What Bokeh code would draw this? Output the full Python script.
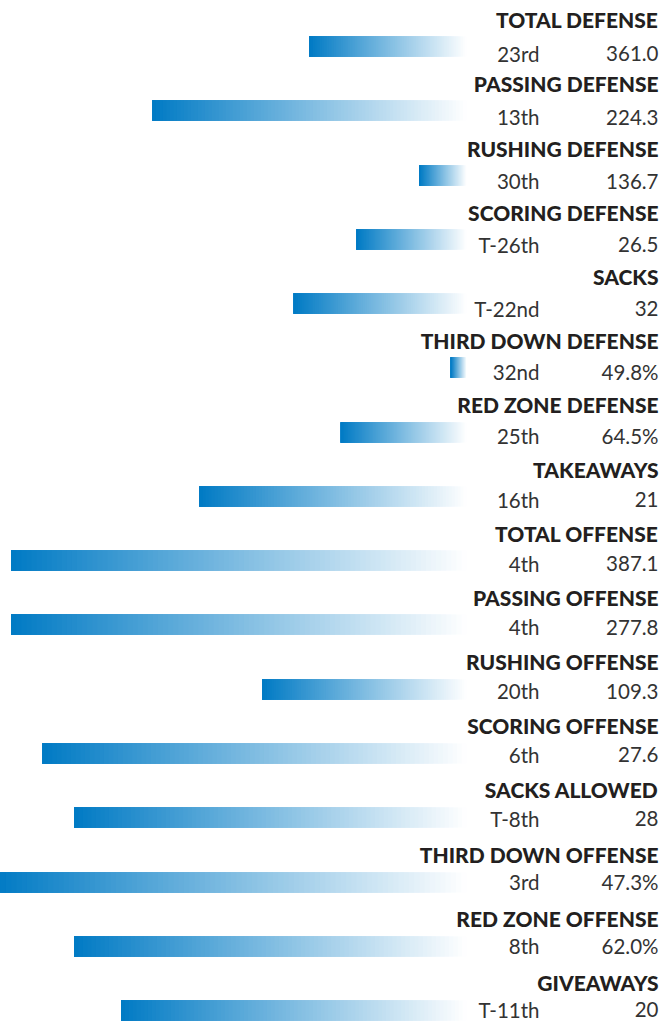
from bokeh.plotting import figure
from bokeh.models import Range1d, ColumnDataSource
from bokeh.core.properties import value
from bokeh.embed import file_html
from bokeh.resources import INLINE

# ---- data ----
categories = ["TOTAL DEFENSE", "PASSING DEFENSE", "RUSHING DEFENSE", "SCORING DEFENSE",
              "SACKS", "THIRD DOWN DEFENSE", "RED ZONE DEFENSE", "TAKEAWAYS",
              "TOTAL OFFENSE", "PASSING OFFENSE", "RUSHING OFFENSE", "SCORING OFFENSE",
              "SACKS ALLOWED", "THIRD DOWN OFFENSE", "RED ZONE OFFENSE", "GIVEAWAYS"]
rank_labels = ["23rd", "13th", "30th", "T-26th", "T-22nd", "32nd", "25th", "16th",
               "4th", "4th", "20th", "6th", "T-8th", "3rd", "8th", "T-11th"]
stat_values = ["361.0", "224.3", "136.7", "26.5", "32", "49.8%", "64.5%", "21",
               "387.1", "277.8", "109.3", "27.6", "28", "47.3%", "62.0%", "20"]
# bar length: 33 - league rank (longer = better rank)
bar_scores = [10, 20, 3, 7, 11, 1, 8, 17, 29, 29, 13, 27, 25, 30, 25, 22]

# ---- layout constants (vertical axis in screen pixels, top = 0) ----
W, H = 662, 1021
PX_PER_SCORE = 15.7
BAR_END_PX = 466          # pixel x where bars end (score 0)
BAR_TOP0, BAR_PITCH, BAR_H = 36, 64.27, 20
TITLE_BASE0, TITLE_PITCH = 19.3, 64.18
TEXT_BASE0, TEXT_PITCH = 53.0, 63.75

x_start = BAR_END_PX / PX_PER_SCORE
x_end = -(W - BAR_END_PX) / PX_PER_SCORE

p = figure(width=W, height=H, output_backend="svg", toolbar_location=None,
           x_range=Range1d(x_start, x_end), y_range=Range1d(H, 0),
           min_border=0, min_border_left=0, min_border_right=0,
           min_border_top=0, min_border_bottom=0)
p.axis.visible = False
p.grid.visible = False
p.outline_line_color = None
p.background_fill_color = "white"
p.border_fill_color = "white"

# ---- gradient bars: stacked layers anchored at the bar's dark (left) end,
#      drawn from the widest/lightest to the narrowest/darkest ----
c0 = (0, 122, 196)
c1 = (255, 255, 255)
N = 90
L, R, T, B, C = [], [], [], [], []
for i, s in enumerate(bar_scores):
    top = round(BAR_TOP0 + BAR_PITCH * i)
    for k in range(N, 0, -1):
        t = (k - 0.5) / N
        col = "#%02x%02x%02x" % tuple(int(round(a + (b - a) * t)) for a, b in zip(c0, c1))
        L.append(s)
        R.append(s * (1 - k / N))
        T.append(top)
        B.append(top + BAR_H)
        C.append(col)
p.quad(left=L, right=R, top=T, bottom=B, fill_color=C, line_color=None)

rows = list(range(len(categories)))
src = ColumnDataSource(dict(
    ty=[TITLE_BASE0 + TITLE_PITCH * r for r in rows],
    vy=[TEXT_BASE0 + TEXT_PITCH * r for r in rows],
    cat=categories, rank=rank_labels, val=stat_values))

x_right = -(658 - BAR_END_PX) / PX_PER_SCORE
x_rank = -(539 - BAR_END_PX) / PX_PER_SCORE

p.text(x=x_right, y="ty", text="cat", source=src, text_align="right",
       text_baseline="alphabetic", text_font=value("'Lato Black', Lato"),
       text_font_style="bold",
       text_font_size="21px", text_color="#231f20")
p.text(x=x_rank, y="vy", text="rank", source=src, text_align="right",
       text_baseline="alphabetic", text_font=value("Lato"),
       text_font_size="20.5px", text_color="#333333")
p.text(x=x_right, y="vy", text="val", source=src, text_align="right",
       text_baseline="alphabetic", text_font=value("Lato"),
       text_font_size="20.5px", text_color="#333333")

open("out.html", "w").write(file_html(p, INLINE))
